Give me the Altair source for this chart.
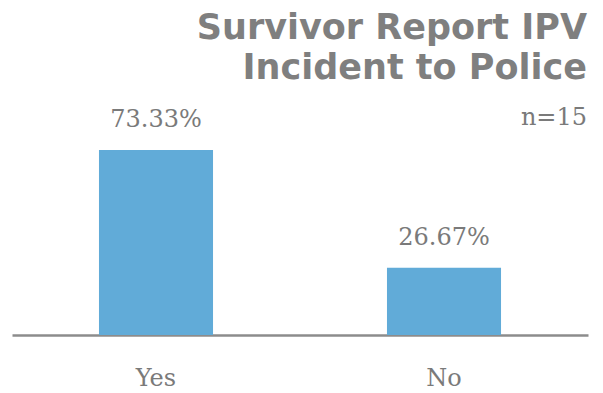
import altair as alt
import pandas as pd

categories = ["Yes", "No"]
values = [73.33, 26.67]
labels = ["73.33%", "26.67%"]
title_lines = ["Survivor Report IPV", "Incident to Police"]
subtitle = "n=15"

df = pd.DataFrame({"cat": categories, "val": values, "lab": labels})

GRAY = "#7a7a7a"
BLUE = "#61abd8"

base = alt.Chart(df).encode(
    x=alt.X(
        "cat:N",
        sort=categories,
        title=None,
        scale=alt.Scale(paddingInner=0, paddingOuter=0),
        axis=alt.Axis(
            labelAngle=0,
            ticks=False,
            tickSize=0,
            labelPadding=31,
            labelFont="DejaVu Serif",
            labelFontSize=24,
            labelColor=GRAY,
            domainColor="#8c8c8c",
            domainWidth=2.5,
            grid=False,
        ),
    ),
    y=alt.Y("val:Q", scale=alt.Scale(domain=[0, 81.26]), axis=None),
)

bars = base.mark_bar(color=BLUE, width=alt.RelativeBandSize(0.396))
text = base.mark_text(
    baseline="alphabetic", dy=-23, font="DejaVu Serif", fontSize=24, color=GRAY
).encode(text="lab:N")

chart = (
    alt.layer(bars, text)
    .properties(
        width=576,
        height=205,
        autosize="none",
        padding={"left": 4, "top": 122, "right": 7, "bottom": 57},
        title=alt.TitleParams(
            text=title_lines,
            subtitle=subtitle,
            anchor="end",
            frame="group",
            font="DejaVu Sans",
            fontWeight="bold",
            fontSize=35,
            color="#7f7f7f",
            lineHeight=40,
            dx=-1,
            subtitleFont="DejaVu Serif",
            subtitleFontSize=24,
            subtitleColor=GRAY,
            subtitlePadding=20,
            offset=-22,
        ),
    )
    .configure_view(stroke=None)
)

chart.save("out.html", embed_options={"renderer": "svg", "actions": False})
